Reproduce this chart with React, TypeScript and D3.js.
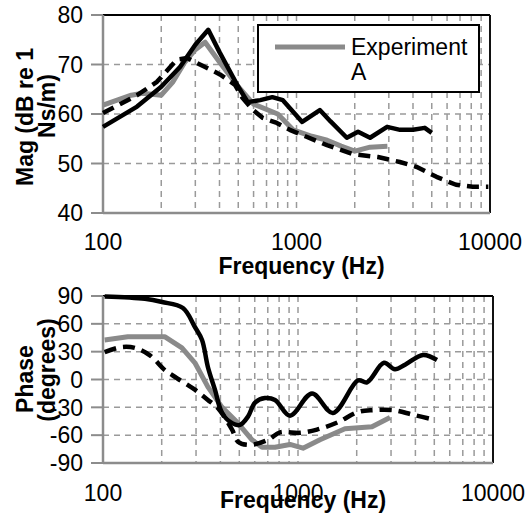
import React, { useEffect, useRef } from 'react';
import * as d3 from 'd3';

// magnitude panel (dB re 1 Ns/m)
const magModelFreq = [100, 150, 200, 250, 300, 350, 400, 500, 560, 650, 750, 850, 1070, 1320, 1500, 1820, 2080, 2400, 2940, 3430, 4000, 4600, 5000];
const magModel = [57.4, 61.5, 65.5, 69.5, 74, 77, 72.5, 65.5, 62.4, 62.8, 63.4, 62.8, 58.4, 60.8, 58.5, 55.2, 56.4, 55.2, 57.4, 56.8, 56.8, 57.2, 56.2];

const magExpFreq = [100, 140, 160, 200, 230, 265, 300, 337, 400, 500, 600, 800, 960, 1200, 1440, 1700, 2000, 2400, 2950];
const magExp = [61.8, 63.8, 64.2, 63.8, 66.5, 70.5, 73.0, 74.5, 70.5, 65.5, 62.0, 60.0, 56.8, 55.5, 54.7, 53.5, 52.5, 53.3, 53.5];

const magDashFreq = [100, 150, 190, 241, 272, 317, 337, 402, 481, 523, 596, 670, 791, 923, 1438, 1957, 2636, 3420, 4189, 5289, 6673, 8140, 9806];
const magDash = [60.2, 63.8, 66.5, 71, 71.3, 70, 69.5, 68, 65.9, 63.4, 60.8, 59.2, 58.2, 56.8, 53.7, 51.9, 51.3, 50.3, 49.3, 47.3, 45.7, 45.3, 45.3];

// phase panel (degrees)
const phModelFreq = [102, 164, 201, 257, 296, 322, 345, 375, 408, 459, 504, 554, 602, 677, 762, 910, 1180, 1510, 2030, 2260, 2760, 3140, 3540, 4380, 5160];
const phModel = [89.5, 87, 83.5, 77, 56.6, 42.6, 13.5, -11, -36, -47, -49, -40, -25, -20, -22, -39, -15, -36, -1, -3, 18, 11, 16, 26.5, 21];

const phExpFreq = [102, 134, 208, 254, 296, 345, 408, 492, 581, 654, 762, 910, 1061, 1296, 1741, 2395, 2965];
const phExp = [42.6, 46, 46, 34, 18, -8, -30, -47, -65, -73, -73, -70, -74, -65, -53, -51, -41];

const phDashFreq = [102, 125, 146, 174, 208, 239, 296, 345, 389, 459, 492, 567, 703, 809, 1023, 1251, 1604, 2030, 2425, 3070, 3890, 5050];
const phDash = [29.6, 35, 34, 26, 10, 1.6, -11, -22, -31, -54, -67, -70.5, -65, -57, -57.5, -54, -46, -35, -33, -33, -38, -43.6];

const magTicks = [40, 50, 60, 70, 80];
const phTicks = [-90, -60, -30, 0, 30, 60, 90];
const xTickLabels = [100, 1000, 10000];
const legendLabel = ['Experiment', 'A'];

const FONT = '"Liberation Sans", Arial, sans-serif';

const App: React.FC = () => {
  const svgRef = useRef<SVGSVGElement>(null);

  useEffect(() => {
    if (!svgRef.current) return;
    const svg = d3.select(svgRef.current);
    svg.selectAll('*').remove();

    const gridFreqs: number[] = [];
    [100, 1000].forEach(d => { for (let k = 2; k <= 10; k++) gridFreqs.push(d * k); });

    const panel = (opts: {
      x0: number; x1: number; y0: number; y1: number;
      domain: [number, number]; ticks: number[];
      series: { f: number[]; v: number[]; color: string; width: number; dash?: string; smooth?: boolean }[];
      xLabelY: number; titleY: number; yTitle: string[]; yTitleY: number[];
    }) => {
      const x = d3.scaleLog().domain([100, 10000]).range([opts.x0, opts.x1]);
      const y = d3.scaleLinear().domain(opts.domain).range([opts.y1, opts.y0]);
      const g = svg.append('g');

      // gridlines
      g.selectAll('.vg').data(gridFreqs.filter(f => f < 10000)).enter().append('line')
        .attr('x1', d => x(d)).attr('x2', d => x(d))
        .attr('y1', opts.y0).attr('y2', opts.y1)
        .attr('stroke', '#9a9a9a').attr('stroke-width', 1.5).attr('stroke-dasharray', '6,5');
      g.selectAll('.hg').data(opts.ticks.slice(1, -1)).enter().append('line')
        .attr('x1', opts.x0).attr('x2', opts.x1)
        .attr('y1', d => y(d)).attr('y2', d => y(d))
        .attr('stroke', '#9a9a9a').attr('stroke-width', 1.5).attr('stroke-dasharray', '6,5');

      // frame: black top/right, gray axes
      g.append('line').attr('x1', opts.x0).attr('x2', opts.x1).attr('y1', opts.y0).attr('y2', opts.y0)
        .attr('stroke', '#000').attr('stroke-width', 2);
      g.append('line').attr('x1', opts.x1).attr('x2', opts.x1).attr('y1', opts.y0).attr('y2', opts.y1)
        .attr('stroke', '#111').attr('stroke-width', 2);
      g.append('line').attr('x1', opts.x0).attr('x2', opts.x1).attr('y1', opts.y1).attr('y2', opts.y1)
        .attr('stroke', '#8c8c8c').attr('stroke-width', 2.5);
      g.append('line').attr('x1', opts.x0).attr('x2', opts.x0).attr('y1', opts.y0).attr('y2', opts.y1)
        .attr('stroke', '#8c8c8c').attr('stroke-width', 2.5);

      // y ticks
      g.selectAll('.yt').data(opts.ticks).enter().append('line')
        .attr('x1', opts.x0 - 12).attr('x2', opts.x0)
        .attr('y1', d => y(d)).attr('y2', d => y(d))
        .attr('stroke', '#8c8c8c').attr('stroke-width', 2);
      g.selectAll('.yl').data(opts.ticks).enter().append('text')
        .attr('x', opts.x0 - 20).attr('y', d => y(d))
        .attr('dy', '0.36em').attr('text-anchor', 'end')
        .style('font-family', FONT).style('font-size', '23px').attr('fill', '#000')
        .text(d => String(d));

      // series
      opts.series.forEach(s => {
        const line = d3.line<[number, number]>().x(d => x(d[0])).y(d => y(d[1]))
          .curve(s.smooth ? d3.curveCatmullRom.alpha(0.5) : d3.curveLinear);
        g.append('path')
          .datum(s.f.map((f, i) => [f, s.v[i]] as [number, number]))
          .attr('d', line)
          .attr('fill', 'none')
          .attr('stroke', s.color)
          .attr('stroke-width', s.width)
          .attr('stroke-linejoin', 'round')
          .attr('stroke-dasharray', s.dash || null);
      });

      // x tick labels
      g.selectAll('.xl').data(xTickLabels).enter().append('text')
        .attr('x', d => x(d)).attr('y', opts.xLabelY)
        .attr('text-anchor', 'middle')
        .style('font-family', FONT).style('font-size', '23px')
        .text(d => String(d));

      g.append('text')
        .attr('x', (opts.x0 + opts.x1) / 2 + 5).attr('y', opts.titleY)
        .attr('text-anchor', 'middle')
        .style('font-family', FONT).style('font-size', '23px').style('font-weight', 'bold')
        .text('Frequency (Hz)');

      opts.yTitle.forEach((t, i) => {
        const bx = i === 0 ? 33 : 55;
        g.append('text')
          .attr('transform', `translate(${bx},${opts.yTitleY[i]}) rotate(-90)`)
          .attr('text-anchor', 'middle')
          .style('font-family', FONT).style('font-size', '23px').style('font-weight', 'bold')
          .text(t);
      });
      return { x, y };
    };

    panel({
      x0: 103, x1: 490, y0: 15, y1: 213, domain: [40, 80], ticks: magTicks,
      series: [
        { f: magExpFreq, v: magExp, color: '#8a8a8a', width: 5 },
        { f: magDashFreq, v: magDash, color: '#000', width: 4.5, dash: '12,7' },
        { f: magModelFreq, v: magModel, color: '#000', width: 4.5 },
      ],
      xLabelY: 250, titleY: 274, yTitle: ['Mag (dB re 1', 'Ns/m)'], yTitleY: [117, 106],
    });

    panel({
      x0: 103, x1: 493, y0: 296, y1: 463, domain: [-90, 90], ticks: phTicks,
      series: [
        { f: phExpFreq, v: phExp, color: '#8a8a8a', width: 5 },
        { f: phDashFreq, v: phDash, color: '#000', width: 4.5, dash: '12,7', smooth: true },
        { f: phModelFreq, v: phModel, color: '#000', width: 4.5, smooth: true },
      ],
      xLabelY: 501, titleY: 508, yTitle: ['Phase', '(degrees)'], yTitleY: [379, 370],
    });

    // legend
    const lg = svg.append('g');
    lg.append('rect').attr('x', 258).attr('y', 25).attr('width', 221).attr('height', 67)
      .attr('fill', '#fff').attr('stroke', '#000').attr('stroke-width', 2);
    lg.append('line').attr('x1', 275).attr('x2', 345).attr('y1', 47).attr('y2', 47)
      .attr('stroke', '#8a8a8a').attr('stroke-width', 5);
    legendLabel.forEach((t, i) => {
      lg.append('text').attr('x', 351).attr('y', 55 + i * 25)
        .style('font-family', FONT).style('font-size', '23px')
        .text(t);
    });
  }, []);

  return (
    <svg ref={svgRef} width={529} height={516} viewBox="0 0 529 516"
      style={{ position: 'absolute', left: 0, top: 0, background: '#fff' }} />
  );
};

export default App;
